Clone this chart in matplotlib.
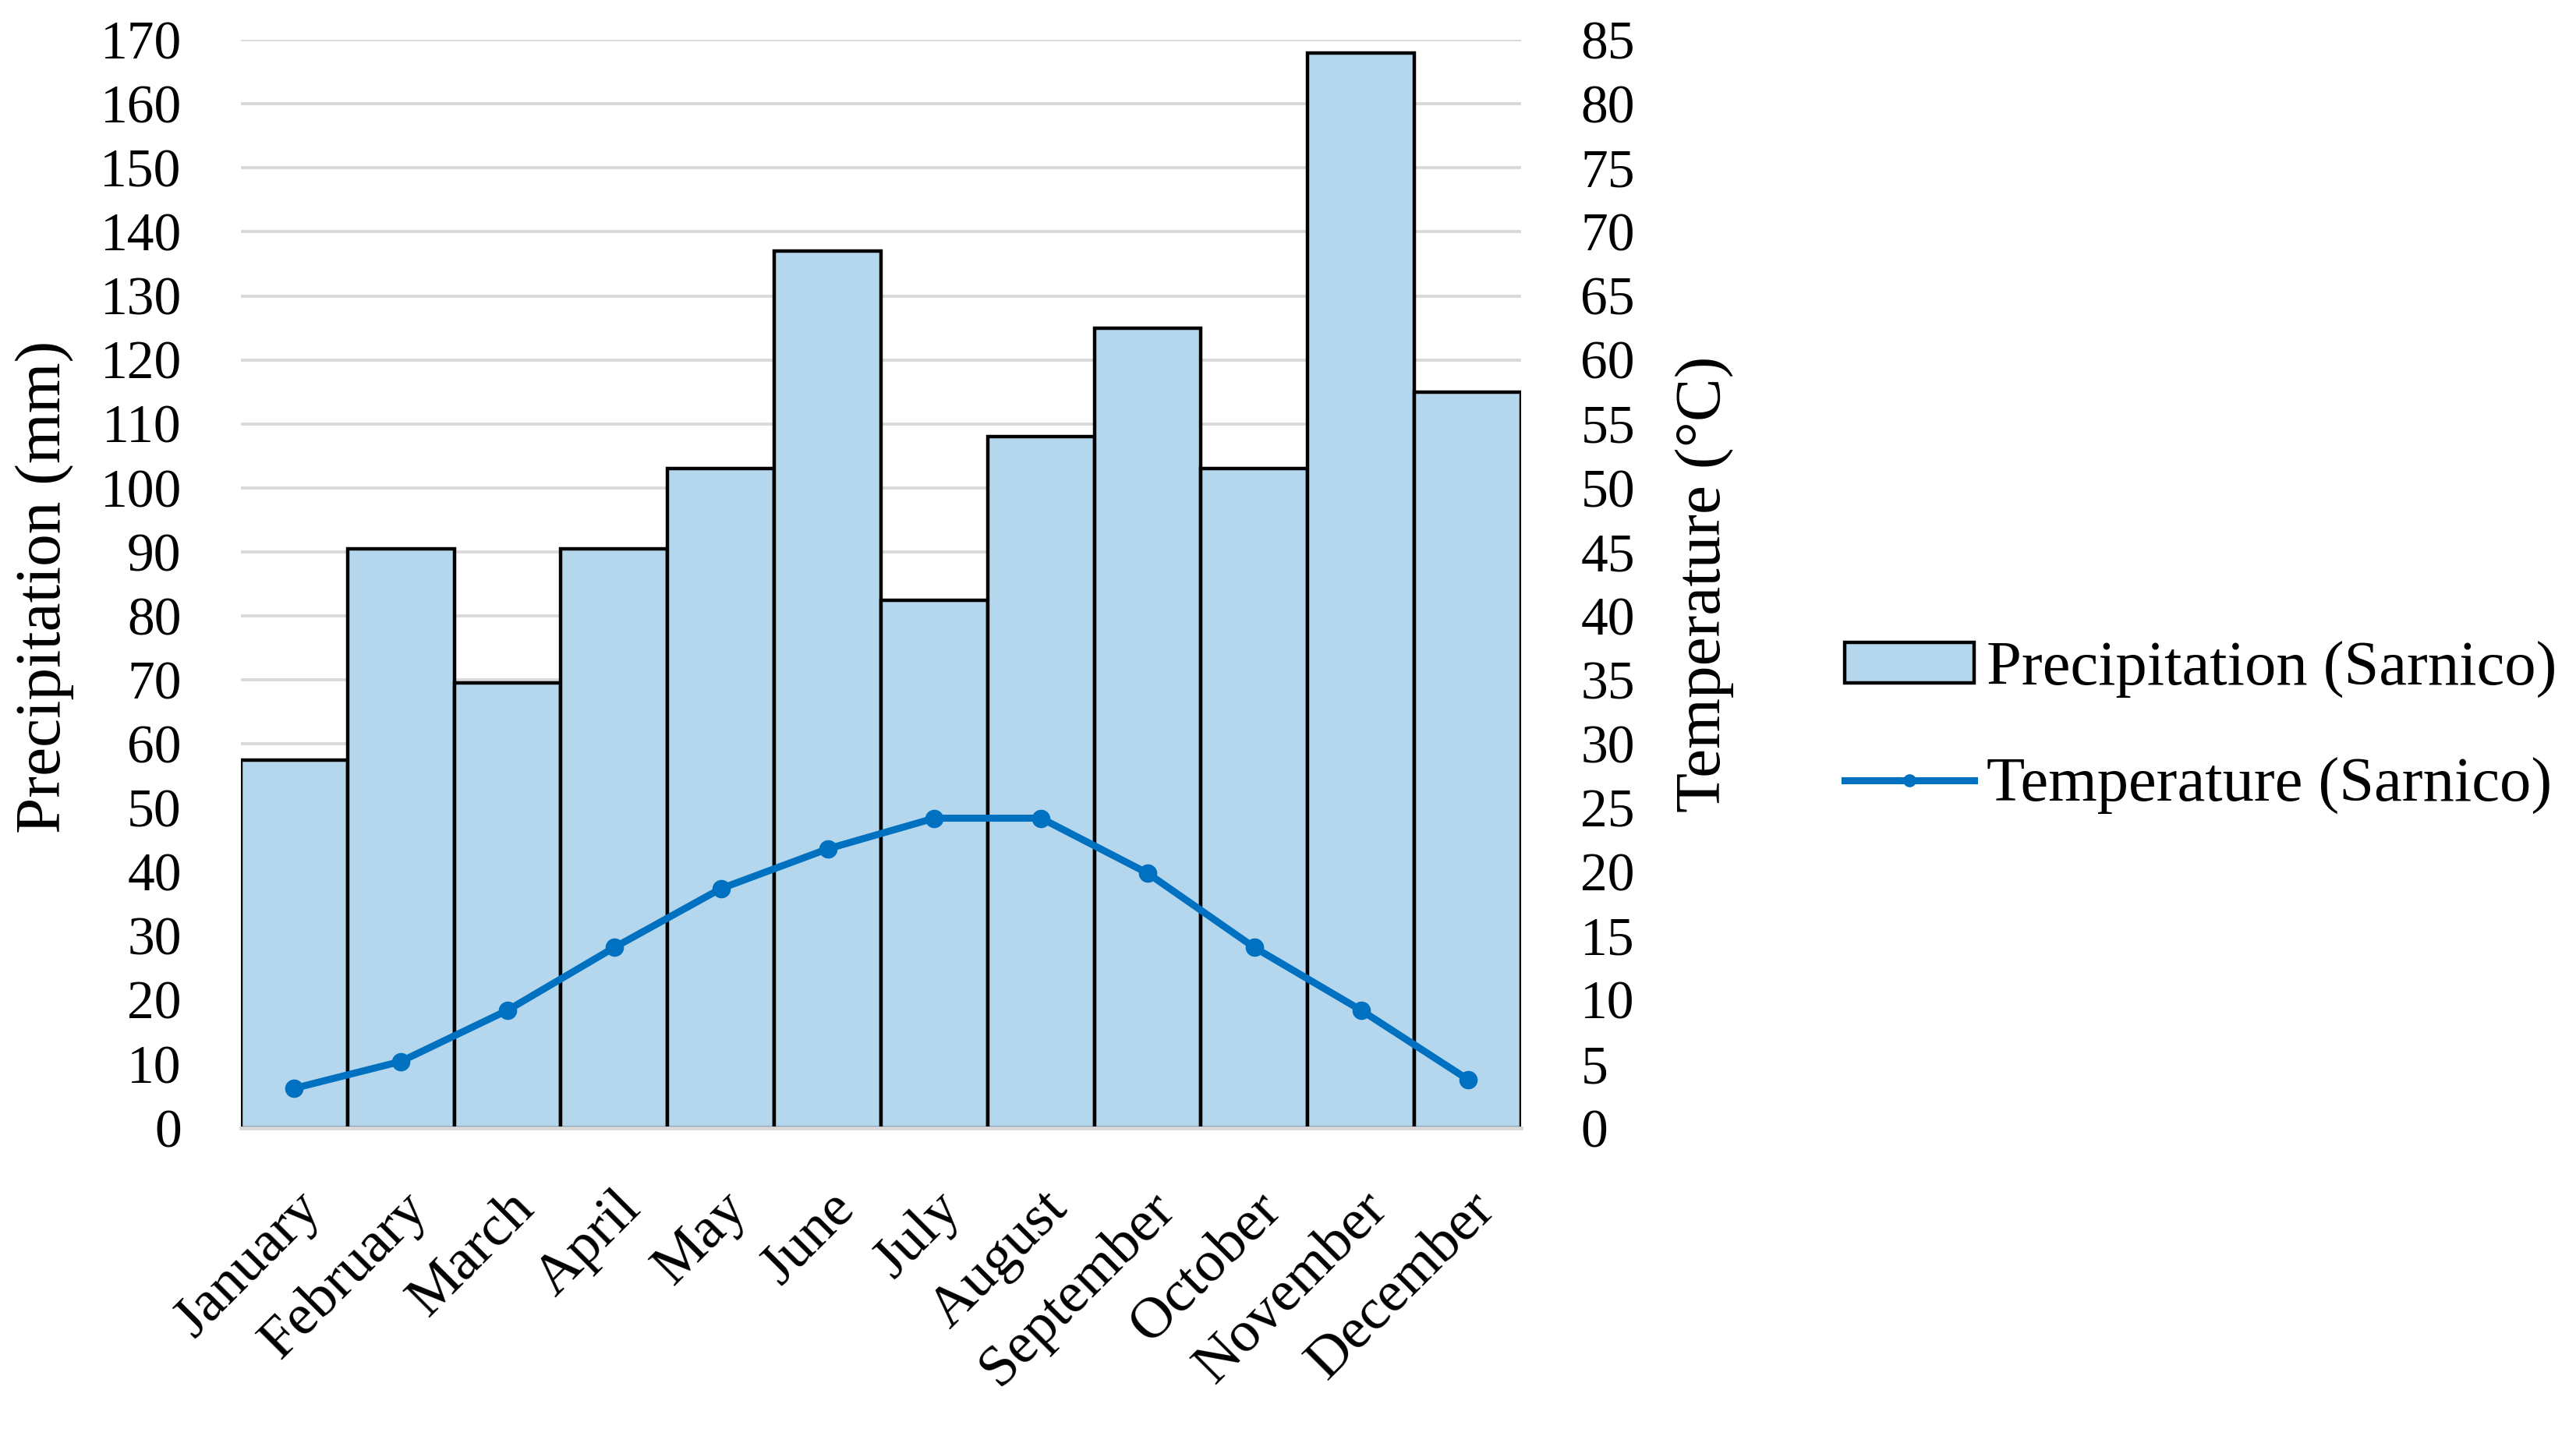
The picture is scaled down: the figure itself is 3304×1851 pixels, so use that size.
import matplotlib
matplotlib.use("Agg")
import matplotlib.pyplot as plt
from matplotlib.patches import Patch
from matplotlib.lines import Line2D

months = ['January', 'February', 'March', 'April', 'May', 'June', 'July',
          'August', 'September', 'October', 'November', 'December']
precip = [57.5, 90.5, 69.5, 90.5, 103, 137, 82.5, 108, 125, 103, 168, 115]
temp = [3.1, 5.2, 9.2, 14.1, 18.7, 21.8, 24.2, 24.2, 19.9, 14.1, 9.2, 3.8]

plt.rcParams['font.family'] = 'Liberation Serif'
fs = 50

fig = plt.figure(figsize=(33.05, 18.51), dpi=100)
ax = fig.add_axes([0.0935, 0.2183, 0.4968, 0.7541])
x = list(range(len(months)))
ax.bar(x, precip, width=1.0, color='#B5D7EE', edgecolor='black', linewidth=3.2, zorder=2)
ax.set_xlim(-0.5, 11.5)
ax.set_ylim(0, 170)
ax.set_yticks(range(0, 171, 10))
ax.grid(axis='y', color='#D9D9D9', linewidth=2.8, zorder=0)
ax.set_axisbelow(True)
for s in ['top', 'right', 'left']:
    ax.spines[s].set_visible(False)
ax.spines['bottom'].set_color('#D9D9D9')
ax.spines['bottom'].set_linewidth(3.5)
ax.tick_params(axis='y', length=0, pad=55, labelsize=fs)
ax.tick_params(axis='x', length=0, pad=50, labelsize=54)
ax.set_xticks(x)
ax.set_xticklabels(months, rotation=45, ha='right', rotation_mode='anchor')

ax2 = ax.twinx()
ax2.plot(x, temp, color='#0070C0', linewidth=6.5, marker='o', markersize=16, zorder=3)
ax2.set_ylim(0, 85)
ax2.set_yticks(range(0, 86, 5))
for s in ['top', 'right', 'left', 'bottom']:
    ax2.spines[s].set_visible(False)
ax2.tick_params(axis='y', length=0, pad=55, labelsize=fs)

fig.text(0.0172, 0.593, 'Precipitation (mm)', rotation=90, ha='center', va='center', fontsize=60)
fig.text(0.6614, 0.5954, 'Temperature (°C)', rotation=90, ha='center', va='center', fontsize=60)

handles = [Patch(facecolor='#B5D7EE', edgecolor='black', linewidth=3.2),
           Line2D([], [], color='#0070C0', linewidth=6.5, marker='o', markersize=11)]
labels = ['Precipitation (Sarnico)', 'Temperature (Sarnico)']
fig.legend(handles, labels, loc='center left', bbox_to_anchor=(0.716, 0.4955),
           frameon=False, fontsize=58, handlelength=2.05, handleheight=0.63,
           handletextpad=0.2, labelspacing=0.95, borderpad=0, borderaxespad=0)

fig.savefig('out.png', dpi=100)
